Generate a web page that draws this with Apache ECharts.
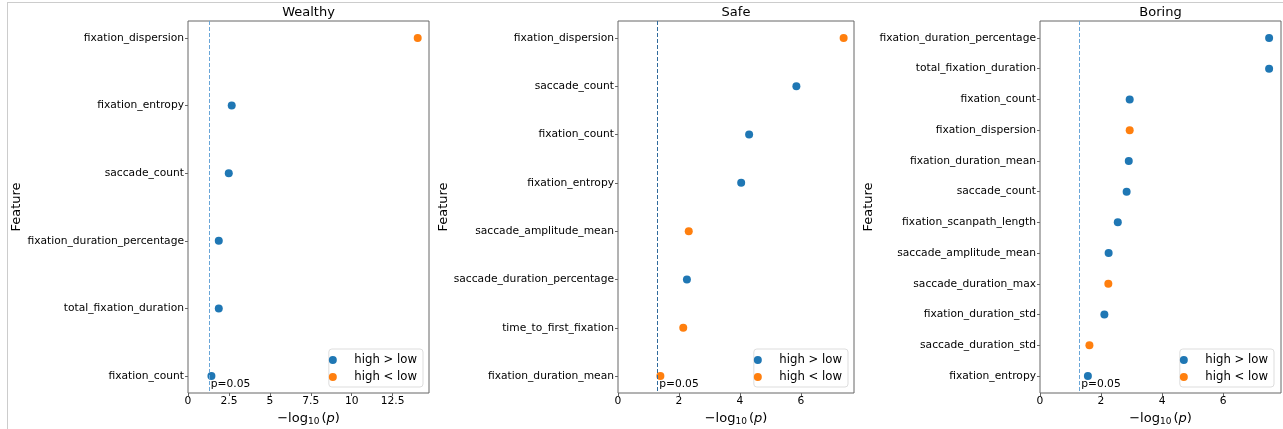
<!DOCTYPE html>
<html>
<head>
<meta charset="utf-8">
<script src="https://cdn.jsdelivr.net/npm/echarts@6/dist/echarts.min.js"></script>
<style>
html,body{margin:0;padding:0;background:#fff;}
#chart{width:1283px;height:429px;}
</style>
</head>
<body>
<div id="chart"></div>
<script>
// ---- data ----
const panelTitles = ['Wealthy', 'Safe', 'Boring'];

const wealthyFeatures = ['fixation_dispersion', 'fixation_entropy', 'saccade_count', 'fixation_duration_percentage', 'total_fixation_duration', 'fixation_count'];
const wealthyValues = [14.03, 2.67, 2.49, 1.88, 1.88, 1.43];
const wealthyDir = ['<', '>', '>', '>', '>', '>'];

const safeFeatures = ['fixation_dispersion', 'saccade_count', 'fixation_count', 'fixation_entropy', 'saccade_amplitude_mean', 'saccade_duration_percentage', 'time_to_first_fixation', 'fixation_duration_mean'];
const safeValues = [7.40, 5.85, 4.30, 4.04, 2.32, 2.26, 2.14, 1.39];
const safeDir = ['<', '>', '>', '>', '<', '>', '<', '<'];

const boringFeatures = ['fixation_duration_percentage', 'total_fixation_duration', 'fixation_count', 'fixation_dispersion', 'fixation_duration_mean', 'saccade_count', 'fixation_scanpath_length', 'saccade_amplitude_mean', 'saccade_duration_max', 'fixation_duration_std', 'saccade_duration_std', 'fixation_entropy'];
const boringValues = [7.51, 7.51, 2.94, 2.94, 2.91, 2.84, 2.55, 2.25, 2.24, 2.11, 1.62, 1.57];
const boringDir = ['>', '>', '>', '<', '>', '>', '>', '>', '<', '>', '<', '>'];

const xMax = [14.72, 7.74, 7.9];
const xInterval = [2.5, 2, 2];
const threshold = 1.301; // -log10(0.05)
const thresholdLabel = 'p=0.05';
const seriesNames = ['high > low', 'high < low'];

// ---- layout / style ----
const FONT = 'DejaVu Sans';
const BLUE = '#1f77b4', ORANGE = '#ff7f0e';
const SPINE = '#666666';
const grids = [
  {left: 188, top: 21, width: 241, height: 372},
  {left: 618, top: 21, width: 236, height: 372},
  {left: 1040, top: 21, width: 241, height: 372}
];
const threshColors = ['#6aa6d8', '#2f6a9c', '#6aa6d8'];
const legendRight = [860, 435, 9];

const panels = [
  {f: wealthyFeatures, v: wealthyValues, d: wealthyDir},
  {f: safeFeatures, v: safeValues, d: safeDir},
  {f: boringFeatures, v: boringValues, d: boringDir}
];

const option = {
  animation: false,
  backgroundColor: '#fff',
  title: [], grid: [], xAxis: [], yAxis: [], series: [], legend: [],
  graphic: [
    {type: 'line', shape: {x1: 7, y1: 2.5, x2: 1283, y2: 2.5}, style: {stroke: '#cccccc', lineWidth: 1}, silent: true},
    {type: 'line', shape: {x1: 7.5, y1: 2, x2: 7.5, y2: 429}, style: {stroke: '#cccccc', lineWidth: 1}, silent: true}
  ]
};

panels.forEach((p, i) => {
  const n = p.f.length;
  const pad = 0.05 * (n - 1);
  const g = grids[i];
  option.title.push({
    text: panelTitles[i], left: g.left + g.width / 2, top: 6, textAlign: 'center', padding: 0,
    textStyle: {fontFamily: FONT, fontSize: 13, fontWeight: 'normal', color: '#000'}
  });
  option.grid.push(Object.assign({show: true, borderColor: SPINE, borderWidth: 1, backgroundColor: 'transparent',
    containLabel: false, outerBoundsMode: 'none'}, g));
  option.xAxis.push({
    type: 'value', gridIndex: i, min: 0, max: xMax[i], interval: xInterval[i], position: 'bottom',
    splitLine: {show: false},
    axisLine: {show: false, onZero: false},
    axisTick: {show: true, length: 3, lineStyle: {color: SPINE}},
    axisLabel: {fontFamily: FONT, fontSize: 10.7, color: '#000', margin: 3, showMaxLabel: false},
    name: '{a|\u2212log}{s|10}{a|(}{i|p}{a|)}',
    nameLocation: 'middle', nameGap: 15,
    nameTextStyle: {
      fontFamily: FONT, fontSize: 13, color: '#000',
      rich: {
        a: {fontFamily: FONT, fontSize: 13, lineHeight: 16, color: '#000'},
        i: {fontFamily: FONT, fontSize: 13, lineHeight: 16, fontStyle: 'italic', color: '#000'},
        s: {fontFamily: FONT, fontSize: 9, lineHeight: 8, verticalAlign: 'bottom', color: '#000', padding: [0, 2, 0, 0]}
      }
    }
  });
  const idx = p.f.map((_, k) => k);
  option.yAxis.push({
    type: 'value', gridIndex: i, inverse: true, min: -pad, max: n - 1 + pad, position: 'left',
    splitLine: {show: false},
    axisLine: {show: false, onZero: false},
    axisTick: {show: true, length: 3, lineStyle: {color: SPINE}, customValues: idx},
    axisLabel: {fontFamily: FONT, fontSize: 10.7, color: '#000', margin: 4, customValues: idx,
      formatter: (val) => p.f[Math.round(val)]},
    name: 'Feature', nameLocation: 'middle', nameRotate: 90, nameGap: 164,
    nameTextStyle: {fontFamily: FONT, fontSize: 13, color: '#000'}
  });
  const hi = [], lo = [];
  p.v.forEach((val, k) => { (p.d[k] === '>' ? hi : lo).push([val, k]); });
  option.series.push({
    type: 'scatter', name: seriesNames[0], xAxisIndex: i, yAxisIndex: i, data: hi,
    symbol: 'circle', symbolSize: 8, itemStyle: {color: BLUE, opacity: 1}, z: 3,
    markLine: {
      silent: true, symbol: ['none', 'none'], label: {show: false},
      lineStyle: {type: [4, 2], width: 1, color: threshColors[i]},
      data: [{xAxis: threshold}]
    },
    markPoint: {
      silent: true, symbol: 'circle', symbolSize: 0,
      data: [{coord: [threshold, n - 1 + pad], value: thresholdLabel}],
      label: {show: true, position: 'right', distance: 0, offset: [1.5, -9], formatter: thresholdLabel,
        fontFamily: FONT, fontSize: 10.7, color: '#000'}
    }
  });
  option.series.push({
    type: 'scatter', name: seriesNames[1], xAxisIndex: i, yAxisIndex: i, data: lo,
    symbol: 'circle', symbolSize: 8, itemStyle: {color: ORANGE, opacity: 1}, z: 3
  });
  option.legend.push({
    orient: 'vertical', right: legendRight[i], bottom: 42,
    itemWidth: 33, itemHeight: 8, itemGap: 5, padding: [5, 6, 4, 0],
    borderColor: '#dddddd', borderWidth: 1, borderRadius: 3, backgroundColor: 'rgba(255,255,255,0.85)',
    selectedMode: false,
    textStyle: {fontFamily: FONT, fontSize: 11.7, color: '#000'},
    data: [{name: seriesNames[0], icon: 'circle'}, {name: seriesNames[1], icon: 'circle'}]
  });
});

const chart = echarts.init(document.getElementById('chart'), null, {renderer: 'canvas'});
chart.setOption(option);
</script>
</body>
</html>
